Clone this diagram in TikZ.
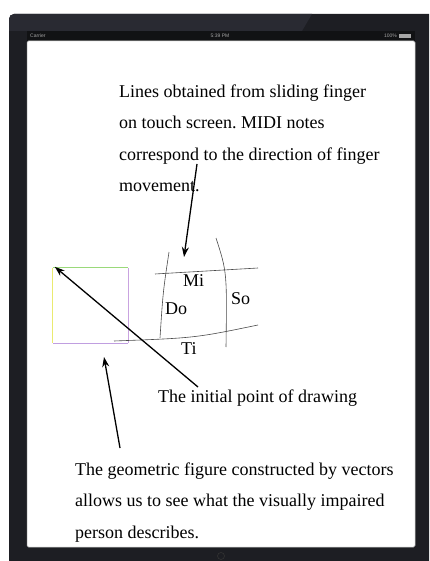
\documentclass[tikz,border=0pt]{standalone}
\usepackage{fontspec}
\setmainfont{Liberation Serif}
\setsansfont{Liberation Sans}
\usetikzlibrary{arrows.meta,positioning}
\definecolor{bezel}{HTML}{1D1E23}
\definecolor{bezeltop}{HTML}{292A32}
\definecolor{statusbar}{HTML}{111214}
\definecolor{stroke}{HTML}{4A4A4A}
\definecolor{sqtop}{HTML}{9AD97A}
\definecolor{sqleft}{HTML}{EAEA70}
\definecolor{sqright}{HTML}{C9A3E0}
\definecolor{sqbottom}{HTML}{C09EE0}
\frenchspacing

\begin{document}
\begin{tikzpicture}[
  x=1pt, y=-1pt,
  caption/.style={
    anchor=base west,
    inner sep=0pt,
    align=left,
    font=\fontsize{18}{31.5}\selectfont
  },
  note/.style={
    anchor=base west,
    inner sep=0pt,
    font=\fontsize{18}{20}\selectfont
  },
  status/.style={
    inner sep=0pt,
    text=gray!70,
    font=\sffamily\fontsize{5}{6}\selectfont
  },
  pointer/.style={-{Stealth[length=10pt,width=7pt]}, draw=black, line width=1.3pt},
  swipe/.style={draw=stroke, line width=0.6pt}
]

% device frame and screen (y runs downwards)
\useasboundingbox (0,0) rectangle (429,561);
\fill[bezel] (9,561) -- (9,19) arc[start angle=180, end angle=270, radius=5]
  -- (429,14) -- (429,561) -- cycle;
\fill[bezeltop] (9,31) -- (9,19) arc[start angle=180, end angle=270, radius=5]
  -- (312,14) -- (302,31) -- cycle;
\fill[statusbar] (27,31) rectangle (415,41);
\fill[white, draw=gray!60, line width=0.5pt, rounded corners=1.5pt] (27,41) rectangle (415,547);
\draw[gray!40!black, line width=0.6pt] (221,556) circle[radius=3.5];

\node[status, anchor=west] (carrier) at (30,36) {Carrier};
\node[status] (clock) at (220,36) {5:39 PM};
\node[status, anchor=east] (battery) at (397,36) {100\%};
\fill[gray!70] ([xshift=1.5pt]battery.east) ++(0,-1.8) rectangle ++(12,3.6);

% explanatory texts (base = last line)
\node[caption] (linesnote) at (119,192) {Lines obtained from sliding finger\\
  on touch screen. MIDI notes\\
  correspond to the direction of finger\\
  movement.};
\node[note] (initnote) at (158,402) {The initial point of drawing};
\node[caption] (figurenote) at (75,538) {The geometric figure constructed by vectors\\
  allows us to see what the visually impaired\\
  person describes.};

% geometric figure
\node[minimum width=75pt, minimum height=75pt, inner sep=0pt] (figsq) at (90.5,305.5) {};
\draw[sqtop, line width=0.8pt] (figsq.north west) -- (figsq.north east);
\draw[sqleft, line width=0.8pt] (figsq.north west) -- (figsq.south west);
\draw[sqright, line width=0.8pt] (figsq.north east) -- (figsq.south east);
\draw[sqbottom, line width=0.8pt] (figsq.south west) -- (figsq.south east);

% finger strokes
\draw[swipe] (155,274) -- (258,268);
\draw[swipe] (169,252) .. controls (163,292) .. (160,338);
\draw[swipe] (216,238) .. controls (227,272) .. (226,347);
\draw[swipe] (114,341) .. controls (195,338) .. (258,325);

\node[note] (mi) at (183,286) {Mi};
\node[note] (do) at (165,314) {Do};
\node[note] (so) at (231,304) {So};
\node[note] (ti) at (181,354) {Ti};

% pointers
\coordinate (linestail) at (197,164);
\coordinate (linestip) at (184,257);
\coordinate (inittail) at (198,387);
\coordinate (figuretail) at (120,448);
\coordinate (figuretip) at (104,357);

\draw[pointer] (linestail) -- (linestip);
\draw[pointer] (inittail) -- ([xshift=2pt,yshift=1pt]figsq.north west);
\draw[pointer] (figuretail) -- (figuretip);

\end{tikzpicture}
\end{document}
